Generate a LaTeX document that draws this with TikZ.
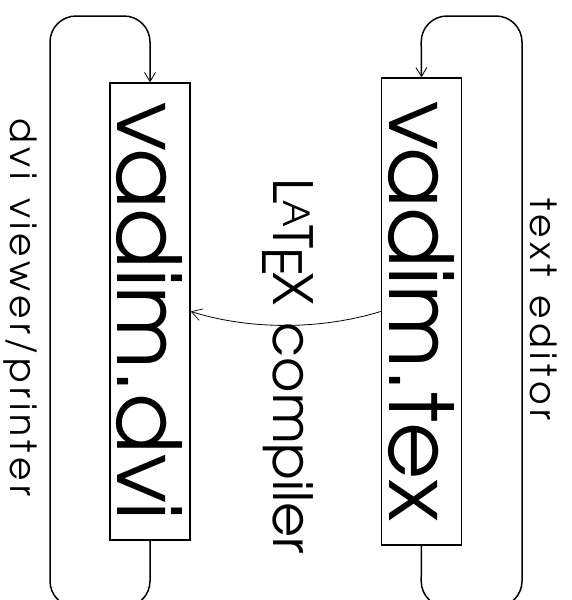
\documentclass[tikz,border=0pt]{standalone}
\usepackage[T1]{fontenc}
\usepackage{avant}
\usepackage{graphicx}
\renewcommand{\familydefault}{\sfdefault}
\usetikzlibrary{arrows.meta}
\ExplSyntaxOn
\NewDocumentCommand\spacedtext{O{4pt} m}{
  \seq_set_split:Nnn \l_tmpa_seq {~} {#2}
  \seq_map_indexed_inline:Nn \l_tmpa_seq {
    \int_compare:nNnT {##1} > {1} {\c_space_tl \kern #1}
    \tl_map_inline:nn {##2} {####1\kern #1}
  }
  \kern -#1
}
\ExplSyntaxOff
\newcommand\flatlatex{L\kern-3pt\raisebox{10pt}{\fontsize{36}{36}\selectfont A}\kern-2pt T\kern-1pt\lower11pt\hbox{E}\kern-3pt X}
\tikzset{
  filebox/.style={draw, line width=1.6pt, rotate=-90, inner sep=0pt,
    font=\fontsize{88}{88}\selectfont, minimum height=80pt},
  looppath/.style={line width=1.5pt, rounded corners=26pt,
    -{Straight Barb[length=9pt,width=11pt,line width=0.8pt]}},
  steplabel/.style={rotate=-90, inner sep=0pt, anchor=base, font=\fontsize{36}{36}\selectfont},
}
\begin{document}
\begin{tikzpicture}[x=1pt,y=-1pt]
\useasboundingbox (0,0) rectangle (572,600);
\clip (0,0) rectangle (572,600);
\node[filebox, minimum width=457pt] (dvi) at (150,311.5) {vadim.dvi};
\node[filebox, minimum width=467pt] (tex) at (421.5,311.5) {vadim.tex};
\draw[looppath] (dvi.east) -- (150,607) -- (50,607) -- (50,16) -- (150,16) -- (dvi.west);
\draw[looppath] (tex.east) -- (421,607) -- (522,607) -- (522,16) -- (421,16) -- (tex.west);
\draw[line width=0.8pt, -{Straight Barb[length=10pt,width=12pt,line width=0.7pt]}]
  (tex.south) .. controls (320,330) and (250,330) .. (dvi.north);
\node[steplabel] (view) at (10,307.5) {\spacedtext[4.35pt]{dvi viewer/printer}};
\node[steplabel] (edit) at (530,309) {\spacedtext[4.5pt]{text editor}};
\node[steplabel, font=\fontsize{54}{54}\selectfont] (comp) at (273,366) {\flatlatex\kern2pt\ compiler};
\end{tikzpicture}
\end{document}
